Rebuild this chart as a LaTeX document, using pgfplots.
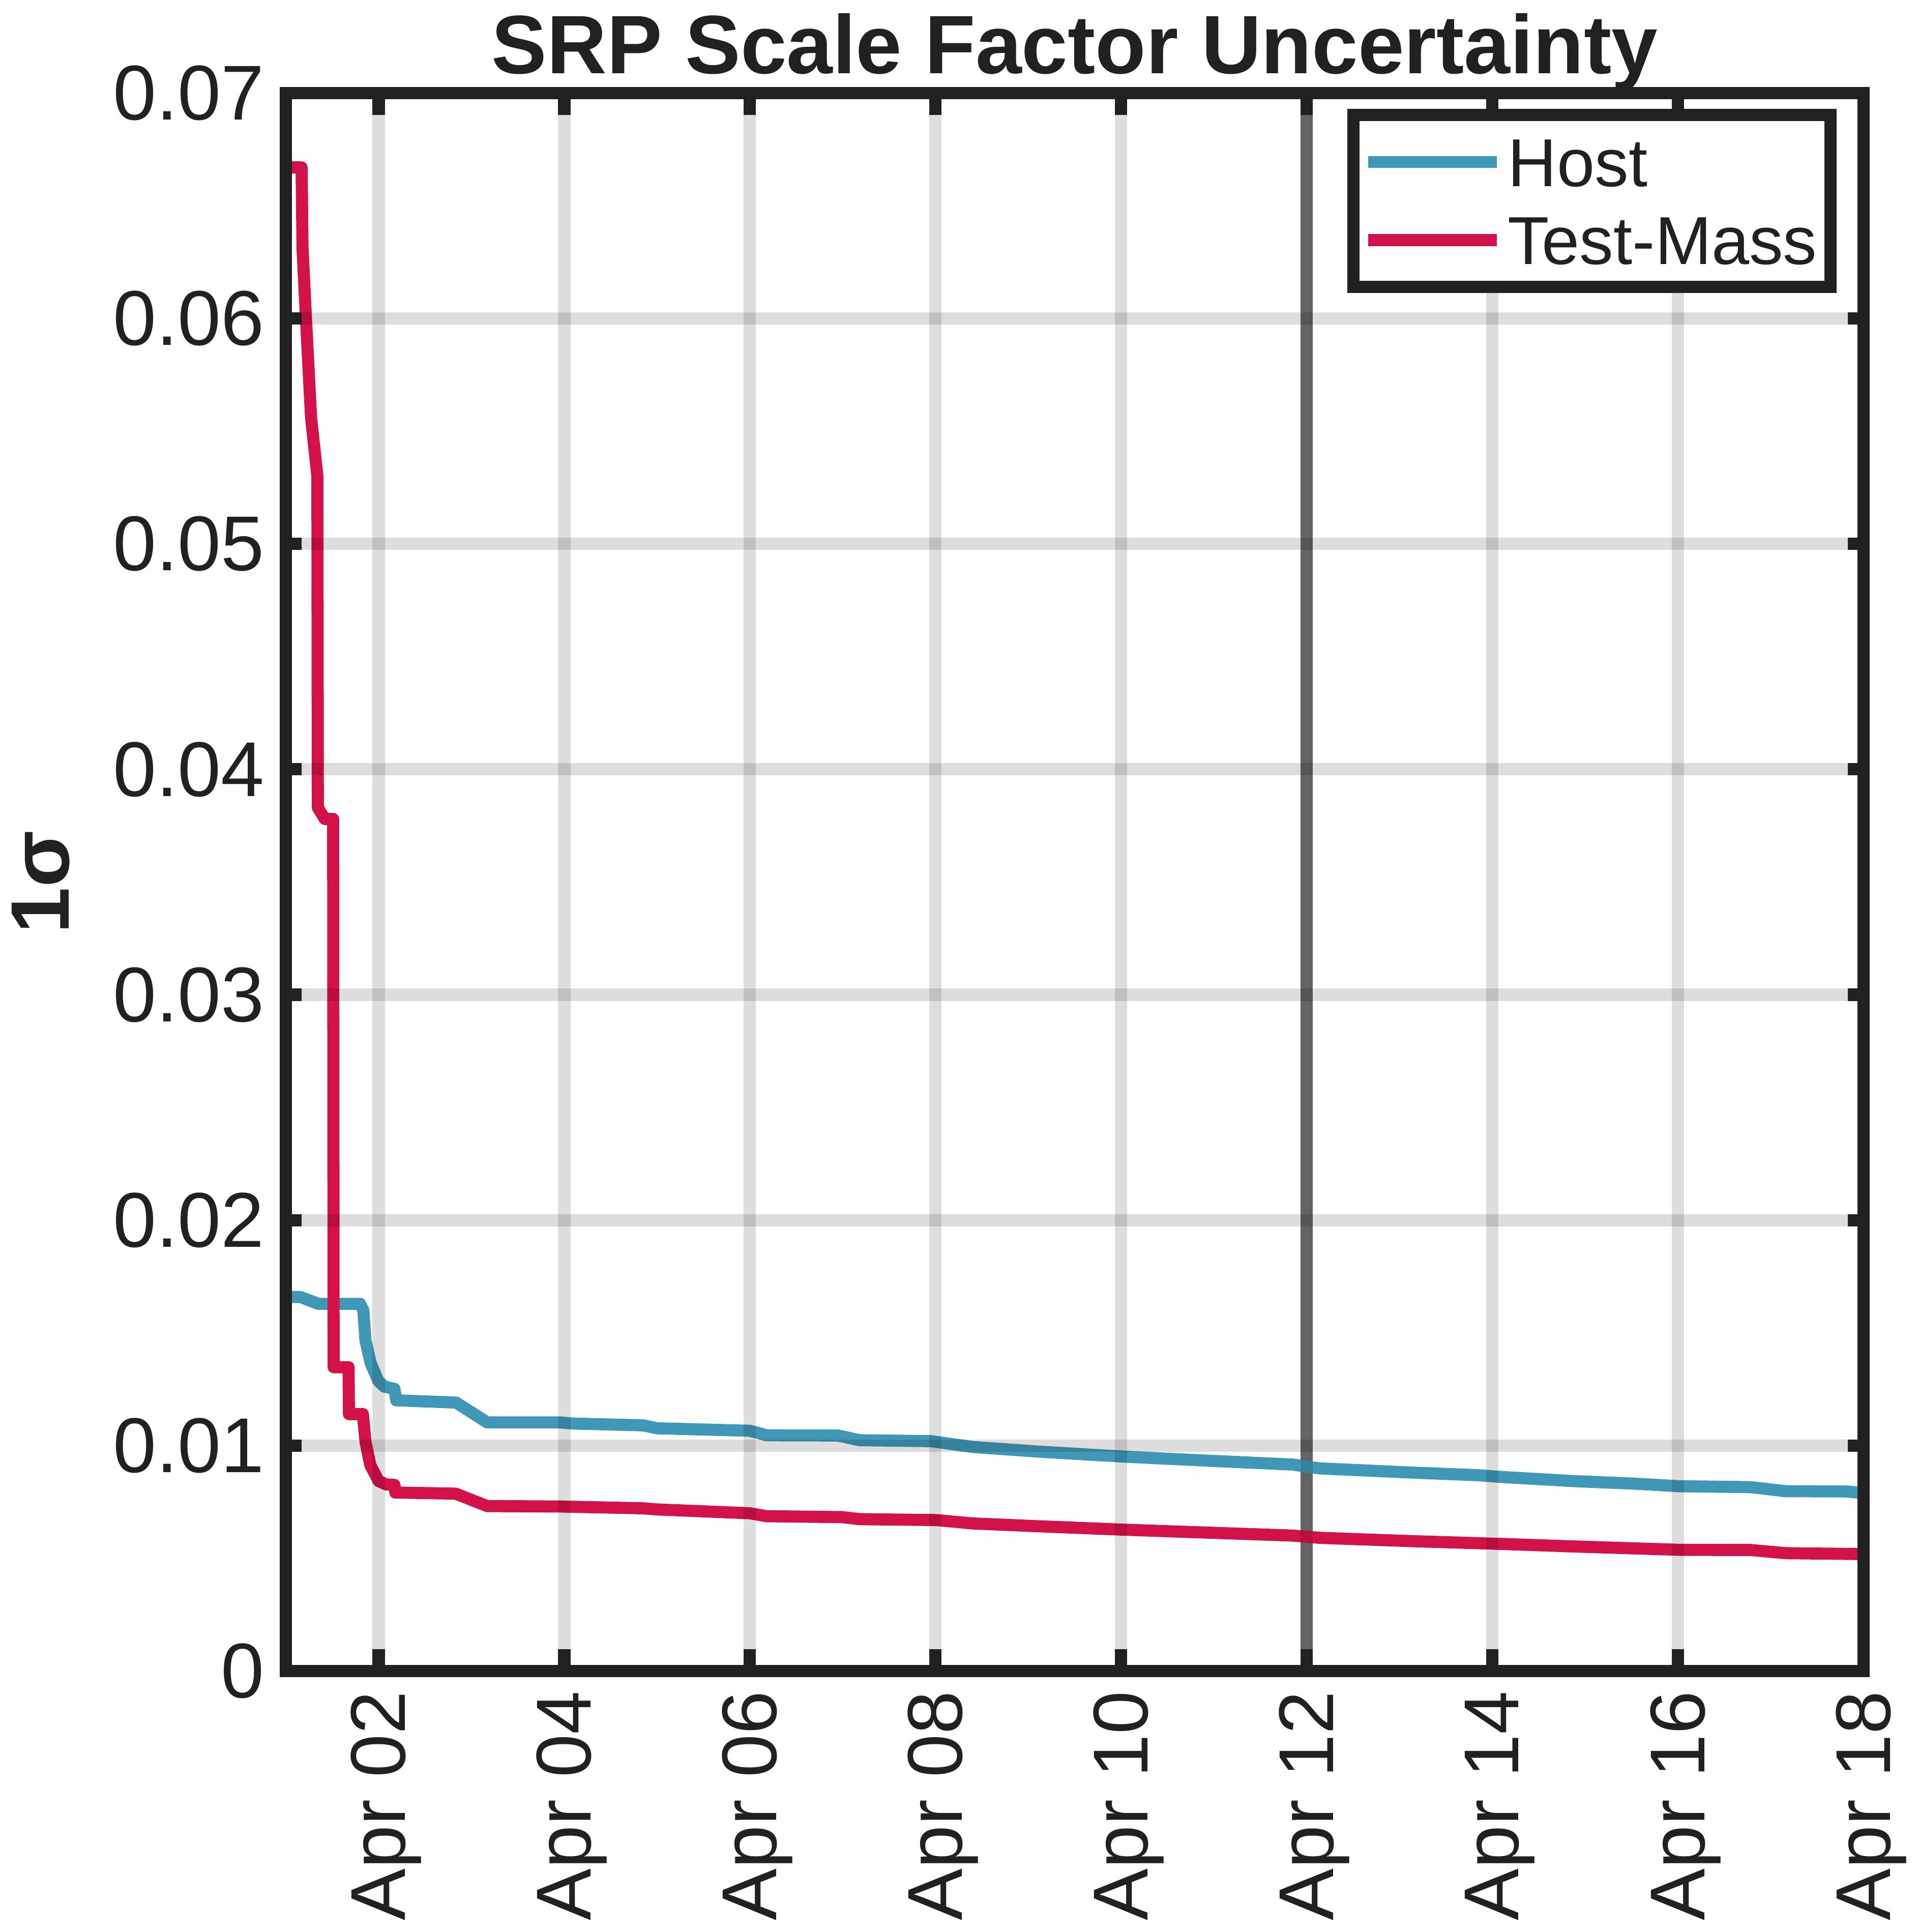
\documentclass[border=0pt]{standalone}
\usepackage{fontspec}
\setmainfont{Liberation Sans}
\usepackage{pgfplots}
\pgfplotsset{compat=1.18}
\definecolor{axcol}{HTML}{212121}
\definecolor{hostcol}{HTML}{4098B8}
\definecolor{tmcol}{HTML}{D21248}
\definecolor{markcol}{HTML}{737373}

\begin{document}
\begin{tikzpicture}
\begin{axis}[
    width=128.4mm, height=128.4mm, scale only axis,
    xmin=1, xmax=18, ymin=0, ymax=0.07,
    axis on top,
    axis line style={draw=axcol, line width=1mm},
    every tick/.style={draw=axcol, line width=1mm},
    tick align=inside,
    major tick length=1.3mm,
    xtick style={/pgfplots/major tick length=1.8mm},
    xtick={2,4,6,8,10,12,14,16,18},
    xticklabels={Apr 02,Apr 04,Apr 06,Apr 08,Apr 10,Apr 12,Apr 14,Apr 16,Apr 18},
    ytick={0,0.01,0.02,0.03,0.04,0.05,0.06,0.07},
    yticklabels={0,0.01,0.02,0.03,0.04,0.05,0.06,0.07},
    scaled y ticks=false,
    grid=major,
    major grid style={draw=black, opacity=0.135, line width=1mm},
    ticklabel style={font=\fontsize{18}{21}\selectfont, text=axcol},
    xticklabel style={rotate=90, anchor=east, xshift=-0.4mm, yshift=-0.6mm},
    yticklabel style={xshift=-0.5mm},
    every axis title shift=0pt,
    title={SRP Scale Factor Uncertainty},
    title style={font=\bfseries\fontsize{19.2}{22}\selectfont, text=axcol,
        at={(0.5,1)}, anchor=base, yshift=1.57mm},
    ylabel={1σ},
    ylabel style={font=\bfseries\fontsize{19.2}{22}\selectfont, text=axcol,
        at={(0,0.5)}, anchor=center, yshift=19.96mm},
    legend style={at={(1,1)}, anchor=north east, xshift=-2.2mm, yshift=-1.3mm,
        draw=axcol, line width=1mm, fill=white,
        inner xsep=0.7mm, inner ysep=0.65mm,
        font=\fontsize{15.7}{18}\selectfont, text=axcol,
        nodes={inner xsep=0.4mm, inner ysep=1.2mm, text height=11.2pt, text depth=0pt}},
    legend cell align=left,
    legend image code/.code={\draw[#1] (0mm,0mm) -- (10.5mm,0mm);},
]
% vertical marker at Apr 12
\addplot[draw=markcol, line width=1mm, forget plot] coordinates {(12,0) (12,0.07)};

\addplot[draw=hostcol, line width=2.8pt, line join=round] coordinates {
(1.00,0.01660) (1.16,0.01659) (1.35,0.01629) (1.80,0.01629) (1.835,0.01600)
(1.858,0.01468) (1.913,0.01367) (1.997,0.01287) (2.06,0.01262) (2.17,0.01252)
(2.19,0.01201) (2.835,0.01191) (3.17,0.01103) (3.95,0.01103) (4.10,0.01098)
(4.85,0.01090) (5.00,0.01077) (6.00,0.01066) (6.18,0.01046) (6.95,0.01045)
(7.18,0.01024) (7.95,0.01020) (8.40,0.00994) (9.13,0.00973) (10.04,0.00951)
(10.95,0.00933) (11.85,0.00916) (12.14,0.00899) (12.52,0.00892) (13.16,0.00880)
(13.84,0.00869) (14.10,0.00861) (14.86,0.00843) (15.50,0.00832) (16.01,0.00820)
(16.78,0.00816) (17.16,0.00798) (17.80,0.00797) (18.00,0.00790)
};
\addlegendentry{Host}

\addplot[draw=tmcol, line width=2.8pt, line join=round] coordinates {
(1.00,0.0667) (1.17,0.0667) (1.18,0.0631) (1.217,0.0600) (1.272,0.0556)
(1.34,0.0530) (1.345,0.0383) (1.42,0.0378) (1.51,0.0378) (1.515,0.01348)
(1.676,0.01348) (1.68,0.0114) (1.83,0.0114) (1.86,0.01014) (1.91,0.00914)
(2.00,0.00843) (2.08,0.00828) (2.17,0.00826) (2.18,0.00792) (2.83,0.00787)
(3.17,0.00732) (3.95,0.00730) (4.85,0.00722) (5.00,0.00717) (6.00,0.00700)
(6.18,0.00687) (6.99,0.00683) (7.18,0.00674) (8.00,0.00670) (8.40,0.00655)
(9.13,0.00642) (10.04,0.00627) (10.95,0.00614) (11.85,0.00601) (12.14,0.00591)
(13.16,0.00576) (14.10,0.00564) (14.86,0.00553) (16.01,0.00538) (16.78,0.00537)
(17.16,0.00523) (18.00,0.00519)
};
\addlegendentry{Test-Mass}

\coordinate (sw) at (rel axis cs:0,0);
\coordinate (ne) at (rel axis cs:1,1);
\end{axis}
\pgfresetboundingbox
\path[use as bounding box] ([xshift=-23.26mm,yshift=-21.23mm]sw) rectangle ([xshift=4.4mm,yshift=7.57mm]ne);
\end{tikzpicture}
\end{document}
